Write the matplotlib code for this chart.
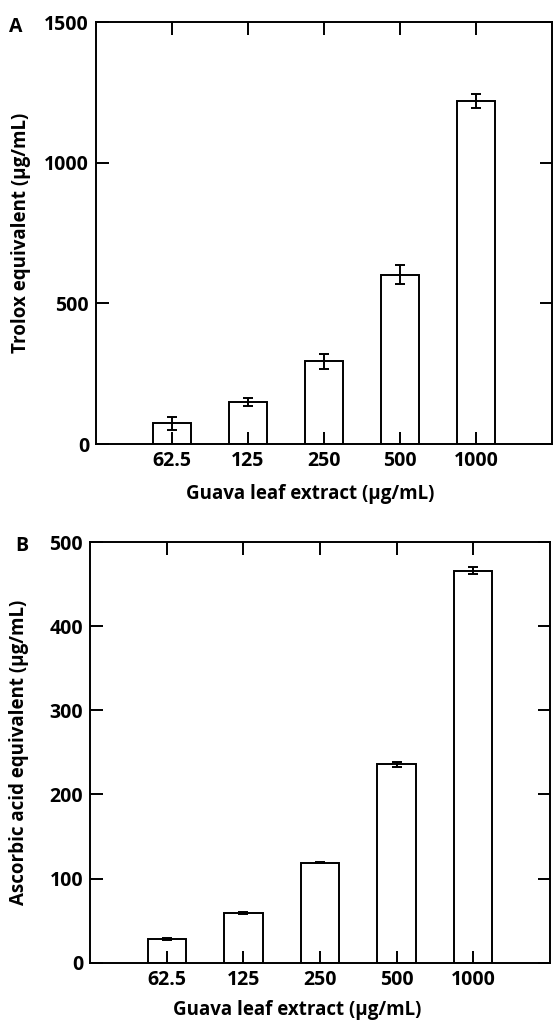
import numpy as np
import matplotlib
matplotlib.use('Agg')
import matplotlib.pyplot as plt

plt.rcParams['font.family'] = ['Open Sans', 'DejaVu Sans']
plt.rcParams['font.weight'] = 'bold'
plt.rcParams['font.size'] = 13

# 数据
concentrations = ['62.5', '125', '250', '500', '1000']
trolox_mean = [74, 148, 294, 602, 1220]
trolox_err = [23, 14, 26, 34, 25]
ascorbic_mean = [28, 59, 119, 236, 466]
ascorbic_err = [1.5, 1.2, 0.6, 3, 4]

fig = plt.figure(figsize=(5.53, 10.26), dpi=100)
ax_a = fig.add_axes([96 / 553, 1 - 444 / 1026, 456 / 553, 422 / 1026])
ax_b = fig.add_axes([90 / 553, 1 - 962.7 / 1026, 460 / 553, 420.7 / 1026])


def draw_panel(ax, means, errs, ymax, ystep, ylabel, xlab_xy, ylab_x):
    x = np.arange(1, len(means) + 1)
    ax.bar(x, means, width=0.5, color='white', edgecolor='black', linewidth=1.4)
    ax.errorbar(x, means, yerr=errs, fmt='none', ecolor='black',
                elinewidth=1.4, capsize=3.6, capthick=1.4)
    ax.set_xlim(0, 6)
    ax.set_ylim(0, ymax)
    ax.set_xticks(x)
    ax.set_xticklabels(concentrations)
    ax.set_yticks(np.arange(0, ymax + 1, ystep))
    ax.tick_params(direction='in', length=9, width=1.4, top=True, right=True,
                   labelsize=14, pad=5)
    for s in ax.spines.values():
        s.set_linewidth(1.4)
    ax.set_xlabel('Guava leaf extract (µg/mL)', fontsize=13.5, fontweight='bold')
    ax.set_ylabel(ylabel, fontsize=13.5, fontweight='bold')
    ax.xaxis.set_label_coords(*xlab_xy)
    ax.yaxis.set_label_coords(ylab_x, 0.5)


draw_panel(ax_a, trolox_mean, trolox_err, 1500, 500, 'Trolox equivalent (µg/mL)',
           (0.47, -0.094), -0.142)
draw_panel(ax_b, ascorbic_mean, ascorbic_err, 500, 100, 'Ascorbic acid equivalent (µg/mL)',
           (0.45, -0.088), -0.132)

fig.text(16 / 553, 1 - 27 / 1026, 'A', fontsize=14, fontweight='bold', ha='center', va='center')
fig.text(22 / 553, 1 - 546 / 1026, 'B', fontsize=14, fontweight='bold', ha='center', va='center')

fig.savefig('out.png', dpi=100)
